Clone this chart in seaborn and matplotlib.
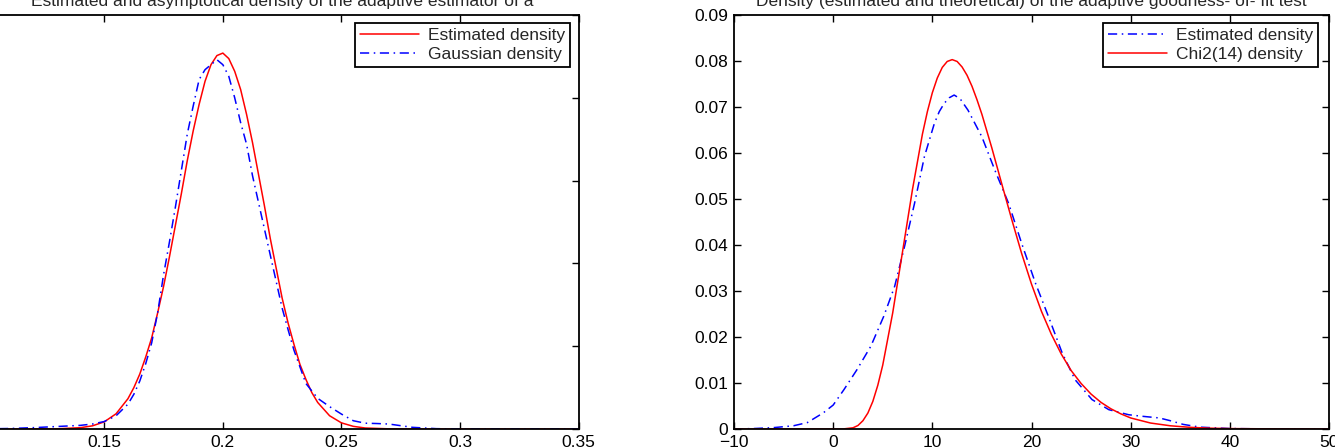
import matplotlib
matplotlib.use("Agg")
import matplotlib.pyplot as plt
import seaborn as sns

# ---------------- data ----------------
# Left panel: estimator of a
left_x_est = [0.10, 0.12, 0.13, 0.14, 0.145, 0.15, 0.155, 0.16, 0.1625, 0.165, 0.1675,
              0.17, 0.1725, 0.175, 0.1775, 0.18, 0.1825, 0.185, 0.1875, 0.19, 0.1925,
              0.195, 0.1975, 0.20, 0.2025, 0.205, 0.2075, 0.21, 0.2125, 0.215, 0.2175,
              0.22, 0.2225, 0.225, 0.2275, 0.23, 0.2325, 0.235, 0.2375, 0.24, 0.245,
              0.25, 0.255, 0.26, 0.27, 0.28, 0.35]
left_y_est = [0.0, 0.0, 0.01, 0.08, 0.19, 0.43, 0.92, 1.83, 2.5, 3.32, 4.35,
              5.5, 7.0, 8.6, 10.4, 12.3, 14.2, 16.2, 18.0, 19.6, 21.0,
              22.0, 22.55, 22.7, 22.37, 21.6, 20.5, 19.0, 17.3, 15.4, 13.5,
              11.5, 9.7, 7.9, 6.4, 5.1, 3.9, 3.0, 2.2, 1.6, 0.8,
              0.37, 0.16, 0.06, 0.01, 0.0, 0.0]

left_x_gauss = [0.10, 0.11, 0.12, 0.13, 0.14, 0.145, 0.15, 0.155, 0.16, 0.1625, 0.165,
                0.1675, 0.17, 0.1725, 0.175, 0.1775, 0.18, 0.1825, 0.185, 0.1875, 0.19,
                0.1925, 0.195, 0.1975, 0.20, 0.2025, 0.205, 0.2075, 0.21, 0.2125, 0.215,
                0.2175, 0.22, 0.2225, 0.225, 0.2275, 0.23, 0.235, 0.24, 0.245, 0.25,
                0.255, 0.26, 0.265, 0.27, 0.275, 0.28, 0.29, 0.30, 0.35]
left_y_gauss = [0.01, 0.03, 0.08, 0.15, 0.22, 0.30, 0.45, 0.8, 1.5, 2.1, 2.9,
                3.95, 5.2, 7.0, 9.3, 11.3, 13.4, 15.6, 17.8, 19.5, 21.1,
                21.7, 22.0, 22.3, 22.0, 21.3, 20.0, 18.5, 17.2, 15.3, 13.7,
                12.1, 10.5, 8.9, 7.3, 6.0, 4.75, 2.75, 1.85, 1.35, 0.9,
                0.5, 0.35, 0.33, 0.3, 0.2, 0.1, 0.02, 0.0, 0.0]

# Right panel: goodness-of-fit statistic
right_x_est = [-10, -8, -6, -4, -2.6, -1, 0, 1.1, 2.4, 3.8, 5.1, 6.2, 7.2, 8.2, 9.2,
               10.2, 10.7, 11.2, 11.7, 12.2, 12.8, 13.6, 15.0, 16.3, 17.7, 19.0, 20.4,
               21.7, 23.1, 24.4, 26.1, 27.8, 29.8, 31, 32.9, 34, 35.3, 37, 40, 45, 50]
right_y_est = [0.0, 0.0001, 0.0003, 0.0007, 0.0014, 0.0035, 0.0052, 0.0086, 0.0129,
               0.018, 0.0245, 0.031, 0.0397, 0.049, 0.0592, 0.0664, 0.0690, 0.0708,
               0.0720, 0.0726, 0.0718, 0.0693, 0.0635, 0.0563, 0.049, 0.0404, 0.0317,
               0.0245, 0.0165, 0.0107, 0.0064, 0.0042, 0.0031, 0.0028, 0.0024, 0.0018,
               0.001, 0.0004, 0.0001, 0.0, 0.0]

right_x_chi = [-10, 0, 1, 2, 2.5, 3, 3.5, 4, 4.5, 5, 6, 7, 8, 9, 9.5, 10, 10.5, 11,
               11.5, 12, 12.5, 13, 13.5, 14, 14.5, 15, 16, 17, 18, 19, 20, 21, 22, 23,
               24, 25, 26, 27, 28, 29, 30, 32, 34, 36, 38, 40, 45, 50]
right_y_chi = [0.0, 0.0, 0.00001, 0.00026, 0.00076, 0.0018, 0.00347, 0.0060, 0.0095,
               0.0139, 0.0252, 0.0386, 0.0521, 0.0641, 0.0690, 0.0731, 0.0763, 0.0786,
               0.0799, 0.0803, 0.0799, 0.0787, 0.0769, 0.0745, 0.0716, 0.0684, 0.0611,
               0.0533, 0.0456, 0.0382, 0.0315, 0.0256, 0.0206, 0.0163, 0.0127, 0.0099,
               0.0076, 0.0058, 0.0044, 0.0033, 0.0024, 0.0013, 0.0007, 0.00036,
               0.00018, 0.00009, 0.00002, 0.0]

left_title = "Estimated and asymptotical density of the adaptive estimator of a"
right_title = "Density (estimated and theoretical) of the adaptive goodness- of- fit test"
left_xticks = [0.10, 0.15, 0.20, 0.25, 0.30, 0.35]
left_xticklabels = ["0.1", "0.15", "0.2", "0.25", "0.3", "0.35"]
left_yticks = [0, 5, 10, 15, 20, 25]
right_xticks = [-10, 0, 10, 20, 30, 40, 50]
right_yticks = [0, 0.01, 0.02, 0.03, 0.04, 0.05, 0.06, 0.07, 0.08, 0.09]
right_yticklabels = ["0", "0.01", "0.02", "0.03", "0.04", "0.05", "0.06", "0.07", "0.08", "0.09"]

# ---------------- style ----------------
sns.set_style("ticks")
plt.rcParams["font.family"] = ["Liberation Sans", "DejaVu Sans"]
FS = 12.5

fig = plt.figure(figsize=(13.35, 4.47), dpi=100)
W, H = 1335, 447

def px_axes(x0, x1, ytop, ybot):
    return fig.add_axes([x0 / W, (H - ybot) / H, (x1 - x0) / W, (ybot - ytop) / H])

axL = px_axes(-14.4, 578.7, 15, 429)
axR = px_axes(734, 1329, 15, 429)

dashdot = (0, (6, 3, 1, 3))

sns.lineplot(x=left_x_est, y=left_y_est, ax=axL, color="#ff0000", linewidth=1.1,
             label="Estimated density", sort=False)
sns.lineplot(x=left_x_gauss, y=left_y_gauss, ax=axL, color="#0000ff", linewidth=1.1,
             linestyle=dashdot, label="Gaussian density", sort=False)

sns.lineplot(x=right_x_est, y=right_y_est, ax=axR, color="#0000ff", linewidth=1.1,
             linestyle=dashdot, label="Estimated density", sort=False)
sns.lineplot(x=right_x_chi, y=right_y_chi, ax=axR, color="#ff0000", linewidth=1.1,
             label="Chi2(14) density", sort=False)

for ax in (axL, axR):
    for s in ax.spines.values():
        s.set_visible(True)
        s.set_linewidth(1.3)
        s.set_color("black")
    ax.tick_params(direction="in", top=True, right=True, length=5, width=1,
                   labelsize=FS, colors="black", pad=4)
    ax.set_xlabel("")
    ax.set_ylabel("")

axL.set_xlim(0.10, 0.35)
axL.set_ylim(0, 25)
axL.set_xticks(left_xticks)
axL.set_xticklabels(left_xticklabels)
axL.set_yticks(left_yticks)

axR.set_xlim(-10, 50)
axR.set_ylim(0, 0.09)
axR.set_xticks(right_xticks)
axR.set_yticks(right_yticks)
axR.set_yticklabels(right_yticklabels)

# titles: baseline about 6 px below the top of the picture
ty = (429 - 6) / 414
axL.text(0.5, ty, left_title, transform=axL.transAxes, ha="center", va="baseline",
         fontsize=FS)
axR.text(0.5, ty, right_title, transform=axR.transAxes, ha="center", va="baseline",
         fontsize=FS)

def fix_legend(ax, bx, by):
    leg = ax.legend(loc="upper right", bbox_to_anchor=(bx, by), borderaxespad=0,
                    fontsize=FS, frameon=True, fancybox=False, handlelength=3.4,
                    handletextpad=0.5, labelspacing=0.2, borderpad=0.3)
    fr = leg.get_frame()
    fr.set_edgecolor("black")
    fr.set_linewidth(1.3)
    fr.set_alpha(1)

fix_legend(axL, (570 + 14.4) / 593.1, (429 - 23) / 414)
fix_legend(axR, (1318 - 734) / 595, (429 - 23) / 414)

fig.savefig("out.png", dpi=100)
